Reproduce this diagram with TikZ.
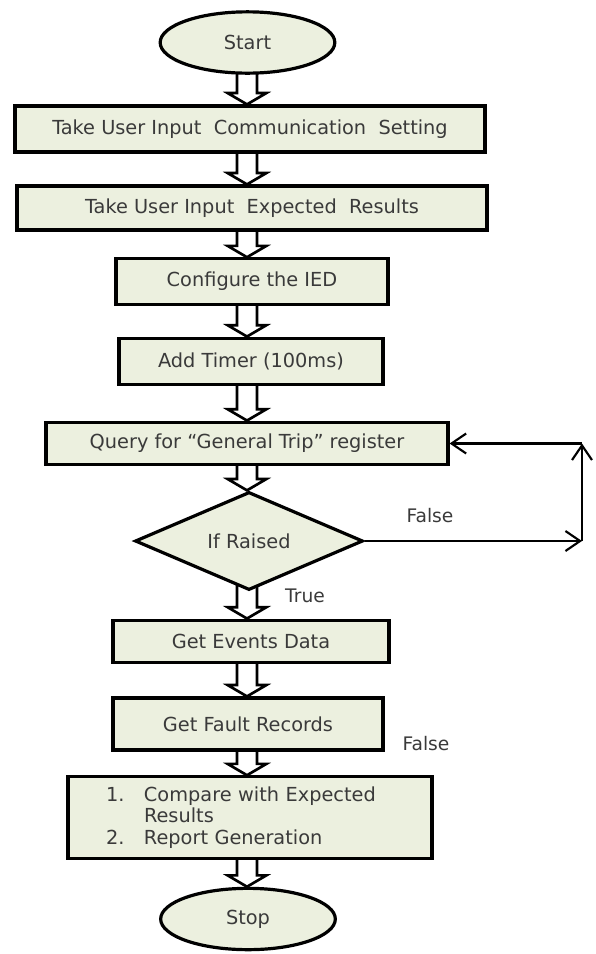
\documentclass[tikz,border=0pt]{standalone}
\usepackage{fontspec}
\setmainfont{DejaVu Sans}
\usetikzlibrary{shapes.geometric,arrows.meta,calc,backgrounds}

\definecolor{boxfill}{HTML}{ECF0DF}
\definecolor{inkgrey}{HTML}{3A3A3A}

\begin{document}
\begin{tikzpicture}[x=0.75pt,y=-0.75pt,
  every node/.style={font=\fontsize{14.5}{16}\selectfont, text=inkgrey},
  proc/.style={draw=black, line width=2.4pt, fill=boxfill, inner sep=0pt},
  term/.style={proc, ellipse},
  test/.style={proc, diamond},
  hollow/.style={draw=black, line width=2pt, line join=miter, to path={
    let \p1=(\tikztostart.south), \p2=(\tikztotarget.north), \p3=(col) in
    (\x3-7.5pt,\y1+12pt) -- (\x3-7.5pt,\y2+8.5pt) -- (\x3-14.5pt,\y2+8.5pt) -- (\x3,\y2)
    -- (\x3+14.5pt,\y2+8.5pt) -- (\x3+7.5pt,\y2+8.5pt) -- (\x3+7.5pt,\y1+12pt)}},
  back/.style={draw=black, line width=1.6pt, -{Straight Barb[length=11pt,width=15pt,line width=1.6pt]}},
  lbl/.style={font=\fontsize{14}{16}\selectfont}
]
\useasboundingbox (0,0) rectangle (596,954);
\coordinate (col) at (247,0);

% Main column
\node[term, minimum width=131pt, minimum height=46pt] (start) at (247.5,42.5) {Start};
\node[proc, minimum width=352.5pt, minimum height=34.5pt] (comm) at (250,129) {Take User Input\ \ Communication\ \ Setting};
\node[proc, minimum width=352.5pt, minimum height=33pt] (expect) at (252,208) {Take User Input\ \ Expected\ \ Results};
\node[proc, minimum width=204pt, minimum height=34pt] (config) at (252,281.5) {Configure the IED};
\node[proc, minimum width=198pt, minimum height=35pt] (timer) at (251,361.5) {Add Timer (100ms)};
\node[proc, minimum width=301.5pt, minimum height=32pt] (query) at (247,443.5) {Query for “General Trip” register};
\node[test, minimum width=171pt, minimum height=60pt] (raised) at (249,541) {If Raised};
\node[proc, minimum width=207pt, minimum height=32pt] (events) at (251,641.5) {Get Events Data};
\node[proc, minimum width=202.5pt, minimum height=39pt] (fault) at (248,724) {Get Fault Records};
\node[proc, minimum width=273pt, minimum height=61pt, text width=216pt, align=left, inner xsep=28.5pt] (compare) at (250,817.5)
  {\makebox[28.5pt][l]{1.}Compare with Expected\\
   \hspace*{28.5pt}Results\\
   \makebox[28.5pt][l]{2.}Report Generation};
\node[term, minimum width=131pt, minimum height=46pt] (stop) at (248,919) {Stop};

% Block arrows (behind the boxes)
\begin{scope}[on background layer]
\draw[hollow] (start) to (comm);
\draw[hollow] (comm) to (expect);
\draw[hollow] (expect) to (config);
\draw[hollow] (config) to (timer);
\draw[hollow] (timer) to (query);
\draw[hollow] (query) to (raised);
\draw[hollow] (raised) to (events);
\draw[hollow] (events) to (fault);
\draw[hollow] (fault) to (compare);
\draw[hollow] (compare) to (stop);
\end{scope}

% Loop back
\coordinate (c1) at (582,541);
\coordinate (c2) at (582,443.5);
\draw[back] (raised) -- (c1);
\draw[back] (c1) -- (c2);
\draw[back] (c2) -- (query);

% Labels
\node[lbl] (f1) at (430,516) {False};
\node[lbl] (t1) at (305,596) {True};
\node[lbl] (f2) at (426,744) {False};
\end{tikzpicture}
\end{document}
